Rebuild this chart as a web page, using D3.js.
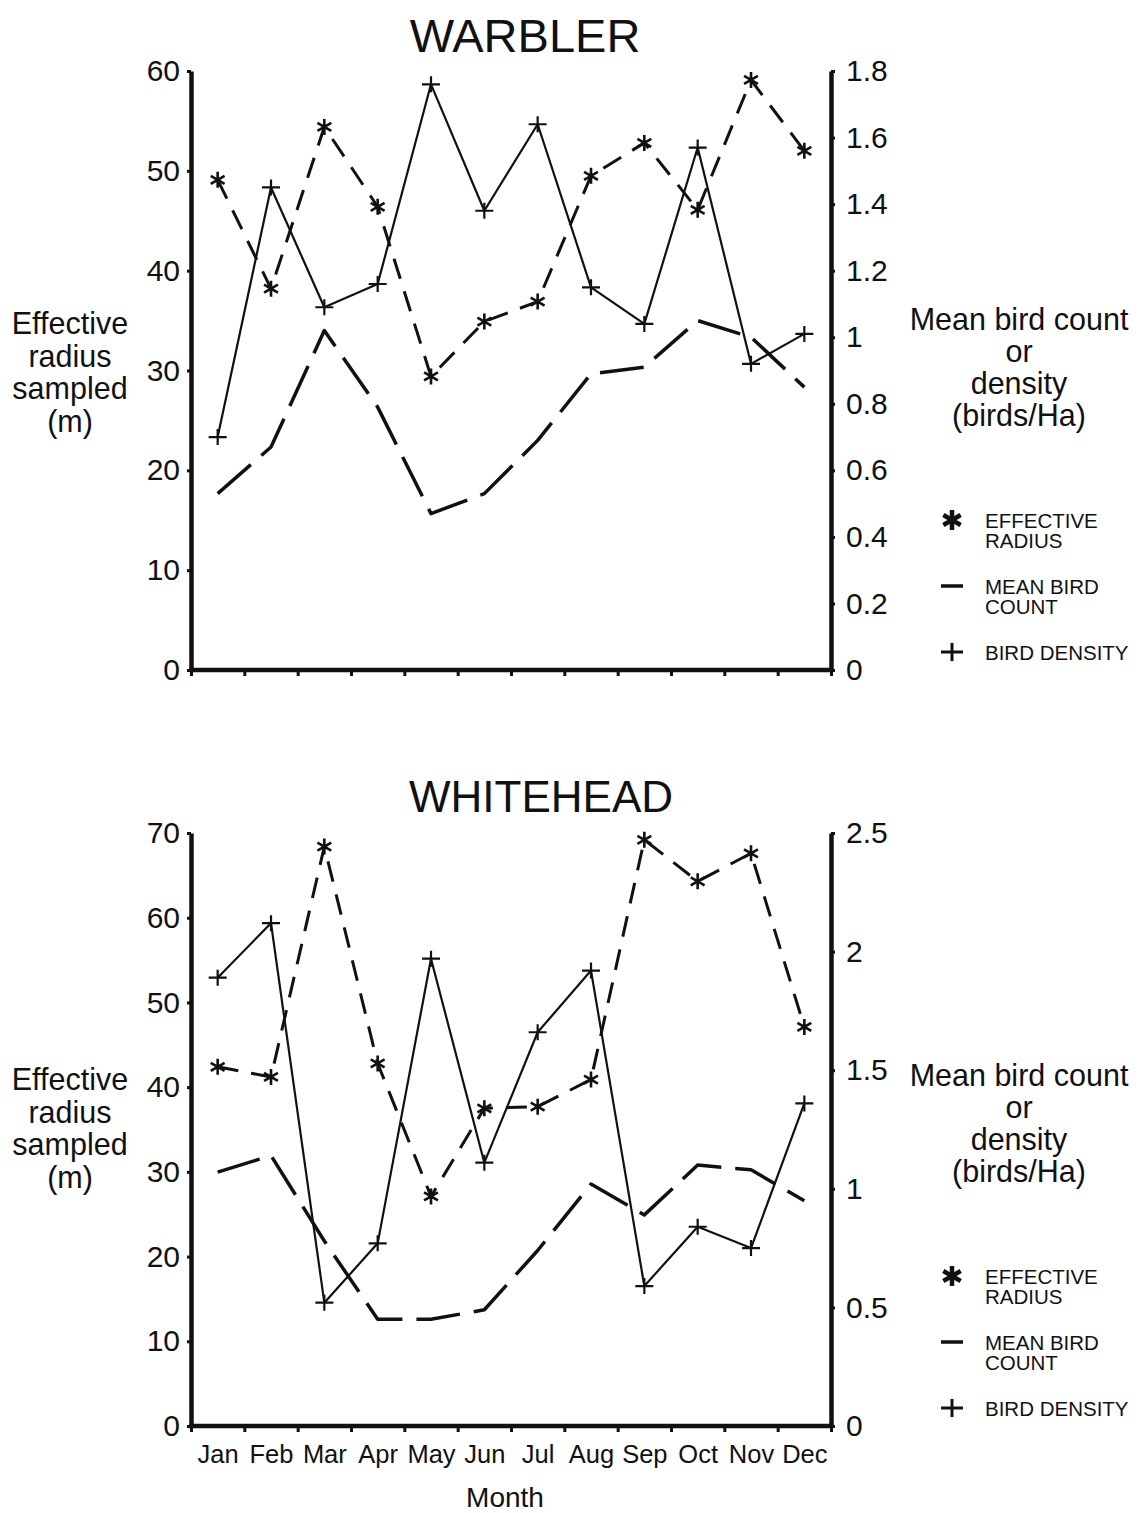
<!DOCTYPE html>
<html>
<head>
<meta charset="utf-8">
<script src="https://cdn.jsdelivr.net/npm/d3@7"></script>
<style>
  html, body { margin: 0; padding: 0; background: #fff; }
  svg { display: block; font-family: "Liberation Sans", Arial, Helvetica, sans-serif; }
</style>
</head>
<body>
<svg id="chart" width="1144" height="1513"></svg>
<script>
// Monthly survey results for two species
const months = ["Jan", "Feb", "Mar", "Apr", "May", "Jun", "Jul", "Aug", "Sep", "Oct", "Nov", "Dec"];

// Warbler: effective radius (m, left axis); mean count and density (right axis)
const warblerRadius  = [49.1, 38.2, 54.4, 46.4, 29.4, 34.9, 36.9, 49.5, 52.8, 46.1, 59.1, 52.0];
const warblerCount   = [0.53, 0.67, 1.02, 0.79, 0.47, 0.53, 0.69, 0.89, 0.91, 1.05, 1.00, 0.85];
const warblerDensity = [0.70, 1.45, 1.09, 1.16, 1.76, 1.38, 1.64, 1.15, 1.04, 1.57, 0.92, 1.01];

// Whitehead: same three measures
const whiteheadRadius  = [42.4, 41.2, 68.4, 42.8, 27.1, 37.5, 37.7, 40.9, 69.2, 64.3, 67.6, 47.1];
const whiteheadCount   = [1.07, 1.14, 0.78, 0.45, 0.45, 0.49, 0.74, 1.02, 0.89, 1.10, 1.08, 0.95];
const whiteheadDensity = [1.89, 2.12, 0.52, 0.77, 1.97, 1.11, 1.66, 1.92, 0.59, 0.84, 0.75, 1.36];

// Axis ticks
const warblerLeftTicks    = [0, 10, 20, 30, 40, 50, 60];
const warblerRightTicks   = [0, 0.2, 0.4, 0.6, 0.8, 1, 1.2, 1.4, 1.6, 1.8];
const whiteheadLeftTicks  = [0, 10, 20, 30, 40, 50, 60, 70];
const whiteheadRightTicks = [0, 0.5, 1, 1.5, 2, 2.5];

const leftTitle  = ["Effective", "radius", "sampled", "(m)"];
const rightTitle = ["Mean bird count", "or", "density", "(birds/Ha)"];
const legendItems = [
  { key: "radius",  lines: ["EFFECTIVE", "RADIUS"] },
  { key: "count",   lines: ["MEAN BIRD", "COUNT"] },
  { key: "density", lines: ["BIRD DENSITY"] }
];

const svg = d3.select("#chart");
const INK = "#111";

function asteriskPath(r) {
  const p = d3.path();
  for (let k = 0; k < 3; k++) {
    const a = Math.PI / 2 + k * Math.PI / 3;
    p.moveTo(r * Math.cos(a), r * Math.sin(a));
    p.lineTo(-r * Math.cos(a), -r * Math.sin(a));
  }
  return p.toString();
}
function plusPath(w, h) {
  return `M${-w},0H${w}M0,${-h}V${h}`;
}

function drawPanel(cfg) {
  const x0 = 191, x1 = 831;
  const g = svg.append("g");

  const x = d3.scalePoint().domain(months).range([x0, x1]).padding(0.5);
  const xEdges = d3.scaleLinear().domain([0, months.length]).range([x0, x1]);
  const yL = d3.scaleLinear().domain([0, cfg.leftMax]).range([cfg.bottom, cfg.top]);
  const yR = d3.scaleLinear().domain([0, cfg.rightMax]).range([cfg.bottom, cfg.top]);

  // Title
  g.append("text").attr("x", cfg.titleX).attr("y", cfg.titleY)
    .attr("text-anchor", "middle").attr("font-size", cfg.titleSize).attr("fill", INK)
    .text(cfg.title);

  // Left axis
  const axL = g.append("g").attr("transform", `translate(${x0},0)`)
    .call(d3.axisLeft(yL).tickValues(cfg.leftTicks).tickSize(4).tickSizeOuter(0).tickPadding(7).tickFormat(d3.format("d")));
  // Right axis
  const axR = g.append("g").attr("transform", `translate(${x1},0)`)
    .call(d3.axisRight(yR).tickValues(cfg.rightTicks).tickSize(4).tickSizeOuter(0).tickPadding(11)
      .tickFormat(d => String(+d.toFixed(1))));
  // Bottom axis: tick marks between months
  const axB = g.append("g").attr("transform", `translate(0,${cfg.bottom})`)
    .call(d3.axisBottom(xEdges).tickValues(d3.range(months.length + 1)).tickSize(6).tickSizeOuter(0).tickFormat(""));

  [axL, axR, axB].forEach(a => {
    a.select(".domain").attr("stroke", INK).attr("stroke-width", 4.5);
    a.selectAll(".tick line").attr("stroke", INK).attr("stroke-width", 3);
    a.selectAll(".tick text").attr("fill", INK).attr("font-size", 30)
      .attr("font-family", "'Liberation Sans', Arial, Helvetica, sans-serif");
  });
  axB.select(".domain").attr("d", `M${x0 - 2},0H${x1 + 2}`);

  if (cfg.showMonths) {
    const axM = g.append("g").attr("transform", `translate(0,${cfg.bottom})`)
      .call(d3.axisBottom(x).tickSize(0).tickPadding(19));
    axM.select(".domain").remove();
    axM.selectAll(".tick text").attr("fill", INK).attr("font-size", 25.5)
      .attr("font-family", "'Liberation Sans', Arial, Helvetica, sans-serif");
    g.append("text").attr("x", 505).attr("y", cfg.bottom + 81)
      .attr("text-anchor", "middle").attr("font-size", 28).attr("fill", INK).text("Month");
  }

  // Axis titles
  const lt = g.append("text").attr("text-anchor", "middle").attr("font-size", 30.5).attr("fill", INK);
  leftTitle.forEach((s, i) => lt.append("tspan").attr("x", 70).attr("y", cfg.bottom - 336 + i * 32.5).text(s));
  const rt = g.append("text").attr("text-anchor", "middle").attr("font-size", 30.5).attr("fill", INK);
  rightTitle.forEach((s, i) => rt.append("tspan").attr("x", 1019).attr("y", cfg.bottom - 340 + i * 32).text(s));

  // Series lines
  const lineL = d3.line().x((d, i) => x(months[i])).y(d => yL(d));
  const lineR = d3.line().x((d, i) => x(months[i])).y(d => yR(d));

  g.append("path").datum(cfg.count).attr("d", lineR)
    .attr("fill", "none").attr("stroke", INK).attr("stroke-width", 3.5)
    .attr("stroke-dasharray", "44,14").attr("stroke-linejoin", "round");

  g.append("path").datum(cfg.radius).attr("d", lineL)
    .attr("fill", "none").attr("stroke", INK).attr("stroke-width", 3)
    .attr("stroke-dasharray", "21,13").attr("stroke-linejoin", "round");

  g.append("path").datum(cfg.density).attr("d", lineR)
    .attr("fill", "none").attr("stroke", INK).attr("stroke-width", 2.2).attr("stroke-linejoin", "round");

  // Markers
  g.selectAll(".ast").data(cfg.radius).join("path").attr("class", "ast")
    .attr("transform", (d, i) => `translate(${x(months[i])},${yL(d)})`)
    .attr("d", asteriskPath(8)).attr("stroke", INK).attr("stroke-width", 2.6).attr("fill", "none");

  g.selectAll(".pls").data(cfg.density).join("path").attr("class", "pls")
    .attr("transform", (d, i) => `translate(${x(months[i])},${yR(d)})`)
    .attr("d", plusPath(9, 8)).attr("stroke", INK).attr("stroke-width", 2.2).attr("fill", "none");

  // Legend
  const offs = [-150, -84, -18];
  legendItems.forEach((item, k) => {
    const cy = cfg.bottom + offs[k];
    const sym = g.append("g").attr("transform", `translate(952,${cy})`);
    if (item.key === "radius") {
      sym.append("path").attr("d", asteriskPath(10)).attr("stroke", INK).attr("stroke-width", 4.5).attr("fill", "none");
    } else if (item.key === "count") {
      sym.append("path").attr("d", "M-11,0H11").attr("stroke", INK).attr("stroke-width", 3.5);
    } else {
      sym.append("path").attr("d", plusPath(11, 9)).attr("stroke", INK).attr("stroke-width", 3);
    }
    const t = g.append("text").attr("font-size", 20.5).attr("fill", INK);
    item.lines.forEach((s, j) => t.append("tspan").attr("x", 985).attr("y", cy + 8 + j * 20).text(s));
  });
}

drawPanel({
  title: "WARBLER", titleX: 525, titleY: 52, titleSize: 47,
  top: 71, bottom: 670, leftMax: 60, rightMax: 1.8,
  leftTicks: warblerLeftTicks, rightTicks: warblerRightTicks,
  radius: warblerRadius, count: warblerCount, density: warblerDensity,
  showMonths: false
});

drawPanel({
  title: "WHITEHEAD", titleX: 541, titleY: 812, titleSize: 44,
  top: 833, bottom: 1426, leftMax: 70, rightMax: 2.5,
  leftTicks: whiteheadLeftTicks, rightTicks: whiteheadRightTicks,
  radius: whiteheadRadius, count: whiteheadCount, density: whiteheadDensity,
  showMonths: true
});
</script>
</body>
</html>
